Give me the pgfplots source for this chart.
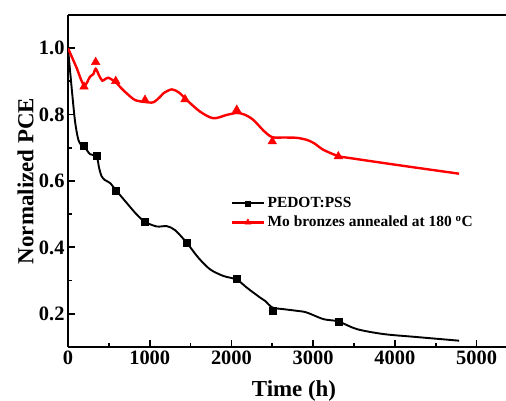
\documentclass[border=0pt]{standalone}
\usepackage{pgfplots}
\pgfplotsset{compat=1.18}
\usepackage{fontspec}
\setmainfont{Liberation Serif}
\begin{document}
\begin{tikzpicture}
\begin{axis}[
  at={(68bp,54bp)}, anchor=south west,
  scale only axis, width=438bp, height=332bp,
  xmin=0, xmax=5360, ymin=0.1, ymax=1.1,
  separate axis lines,
  axis x line=box, axis y line=left,
  axis line style={-, line width=2.2bp},
  every outer y axis line/.append style={-},
  every outer x axis line/.append style={-},
  xtick={0,1000,2000,3000,4000,5000},
  ytick={0.2,0.4,0.6,0.8,1.0},
  minor x tick num=1, minor y tick num=1,
  xtick pos=bottom, ytick pos=left,
  tick align=inside,
  major tick length=7bp, minor tick length=4.5bp,
  tick style={line width=1.8bp, black},
  y tick label style={/pgf/number format/.cd, fixed, fixed zerofill, precision=1},
  x tick label style={/pgf/number format/.cd, 1000 sep={}},
  /pgf/number format/assume math mode=true,
  tick label style={font=\fontsize{20.5}{20.5}\selectfont\bfseries},
  xlabel={Time (h)}, ylabel={Normalized PCE},
  label style={font=\fontsize{23}{23}\selectfont\bfseries},
  xlabel style={at={(axis description cs:0.516,-0.1476)}, anchor=base, inner sep=0pt},
  ylabel style={at={(axis description cs:-0.078,0.5)}, anchor=south, inner sep=0pt},
  legend style={at={(axis description cs:0.371,0.462)}, anchor=north west, draw=none, fill=none, inner sep=0pt,
    font=\fontsize{15.5}{15.5}\selectfont\bfseries,
    nodes={inner sep=2.5bp, text height=11bp, text depth=3bp},
    /tikz/every even column/.append style={column sep=3bp}},
  legend cell align=left,
]
% PEDOT:PSS line
\addplot[black, line width=1.9bp, smooth, tension=0.5, forget plot] coordinates {
(0,1.000) (45,0.880) (86,0.780) (126,0.725) (170,0.706) (210,0.700) (269,0.681) (351,0.673)
(380,0.640) (410,0.615) (450,0.603) (514,0.594) (588,0.572) (718,0.534) (841,0.499)
(942,0.477) (1086,0.463) (1208,0.464) (1310,0.452) (1453,0.414) (1595,0.369) (1738,0.334)
(1901,0.314) (2065,0.303) (2187,0.279) (2350,0.249) (2411,0.239) (2501,0.219) (2636,0.214)
(2800,0.209) (2921,0.204) (3125,0.184) (3308,0.177) (3533,0.154) (3860,0.139) (4268,0.130) (4786,0.119)
};
\addplot[black, only marks, mark=square*, mark size=3.5bp,
  legend image code/.code={\draw[black, line width=1.9bp] (0bp,0bp) -- (32bp,0bp);
    \draw[black] plot[mark=square*, mark size=2.6bp] coordinates {(16bp,0bp)};}]
coordinates {
(196,0.706) (351,0.676) (588,0.572) (942,0.477) (1453,0.414) (2065,0.307) (2501,0.209) (3308,0.176)
};
\addlegendentry{PEDOT:PSS}
% Mo bronzes line
\addplot[red, line width=2.4bp, smooth, tension=0.5, forget plot] coordinates {
(0,1.000) (100,0.944) (196,0.888) (269,0.914) (310,0.922) (339,0.938) (380,0.918) (420,0.902)
(460,0.908) (493,0.911) (540,0.905) (584,0.898) (650,0.880) (718,0.864) (820,0.844)
(942,0.838) (1044,0.837) (1120,0.852) (1167,0.864) (1270,0.876) (1360,0.866) (1453,0.844)
(1616,0.809) (1779,0.789) (1942,0.799) (2065,0.805) (2160,0.800) (2268,0.784) (2400,0.750)
(2501,0.732) (2650,0.731) (2800,0.730) (2920,0.724) (3010,0.714) (3125,0.694) (3308,0.675) (3452,0.669)
(4064,0.647) (4786,0.622)
};
\addplot[red, only marks, mark=triangle*, mark size=5bp,
  legend image code/.code={\draw[red, line width=2.4bp] (0bp,0bp) -- (32bp,0bp);
    \draw[red] plot[mark=triangle*, mark size=3.5bp] coordinates {(16bp,0bp)};}]
coordinates {
(196,0.884) (339,0.958) (584,0.901) (942,0.844) (1432,0.846) (2065,0.814) (2500,0.719) (3308,0.674)
};
\addlegendentry{Mo bronzes annealed at 180 \textsuperscript{o}C}
\end{axis}
\pgfresetboundingbox
\useasboundingbox (0,0) rectangle (506bp,401bp);
\end{tikzpicture}
\end{document}
